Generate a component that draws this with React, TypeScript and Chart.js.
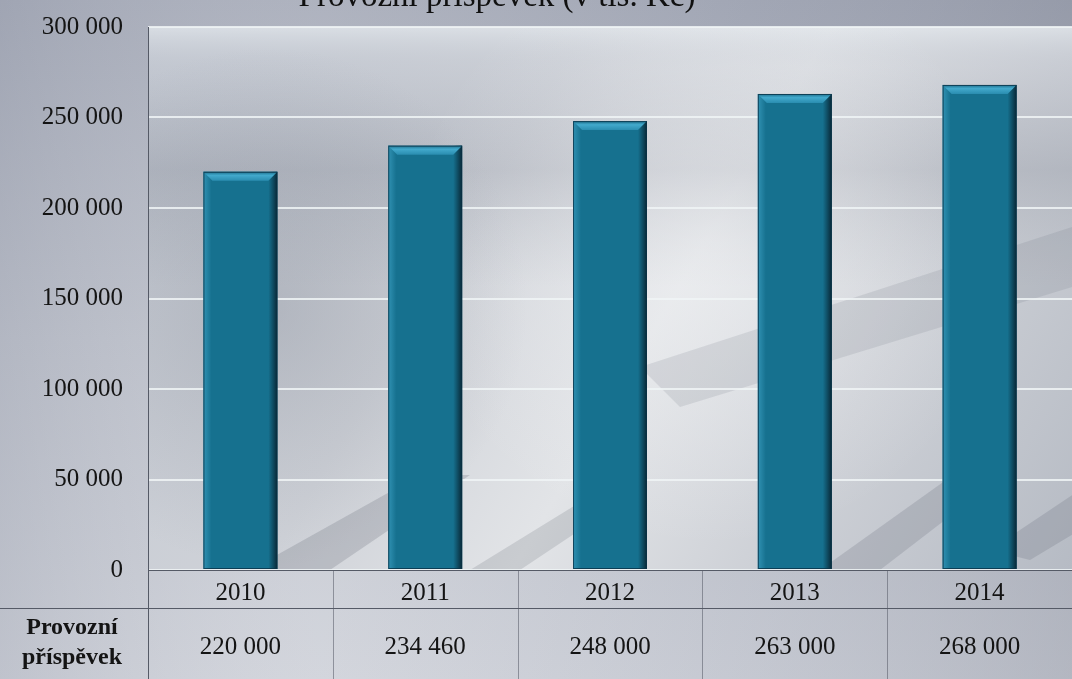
import React, { useEffect, useRef } from "react";
import { Chart, registerables } from "chart.js";

Chart.register(...registerables);

const titleText = "Provozní příspěvek (v tis. Kč)";
const categories = ["2010", "2011", "2012", "2013", "2014"];
const values = [220000, 234460, 248000, 263000, 268000];
const rowLabel = ["Provozní", "příspěvek"];
const yMin = 0;
const yMax = 300000;
const yStep = 50000;

const FONT = '"Liberation Serif", "DejaVu Serif", serif';

function fmt(n: number): string {
  return String(n).replace(/\B(?=(\d{3})+(?!\d))/g, " ");
}

const backgroundPlugin = {
  id: "metalBackground",
  beforeDraw(chart: any) {
    const { ctx, width, height, chartArea } = chart;
    ctx.save();
    // outer background
    const g = ctx.createLinearGradient(0, 0, 0, height);
    g.addColorStop(0, "#a3a8b6");
    g.addColorStop(0.5, "#bcc0ca");
    g.addColorStop(1, "#cdd0d8");
    ctx.fillStyle = g;
    ctx.fillRect(0, 0, width, height);
    const g2 = ctx.createLinearGradient(0, 0, width, 0);
    g2.addColorStop(0, "rgba(150,155,170,0.25)");
    g2.addColorStop(0.3, "rgba(255,255,255,0.12)");
    g2.addColorStop(0.7, "rgba(150,155,170,0.15)");
    g2.addColorStop(1, "rgba(120,125,140,0.3)");
    ctx.fillStyle = g2;
    ctx.fillRect(0, 0, width, height);

    // plot area
    const { left, top, right, bottom } = chartArea;
    const pg = ctx.createLinearGradient(left, top, right, bottom);
    pg.addColorStop(0, "#c4c9d2");
    pg.addColorStop(0.35, "#cfd2d8");
    pg.addColorStop(0.55, "#e2e4e7");
    pg.addColorStop(0.75, "#cdd0d6");
    pg.addColorStop(1, "#b6bbc4");
    ctx.fillStyle = pg;
    ctx.fillRect(left, top, right - left, bottom - top);

    ctx.beginPath();
    ctx.rect(left, top, right - left, bottom - top);
    ctx.clip();
    // top light edge then darker band
    const tg = ctx.createLinearGradient(0, top, 0, top + 260);
    tg.addColorStop(0, "rgba(225,230,235,0.7)");
    tg.addColorStop(0.15, "rgba(190,195,205,0.3)");
    tg.addColorStop(0.55, "rgba(130,136,150,0.3)");
    tg.addColorStop(1, "rgba(140,146,158,0)");
    ctx.fillStyle = tg;
    ctx.fillRect(left, top, right - left, 260);
    // left-middle darker zone
    const lg = ctx.createRadialGradient(left + 120, top + 280, 10, left + 120, top + 280, 260);
    lg.addColorStop(0, "rgba(120,126,140,0.3)");
    lg.addColorStop(1, "rgba(120,126,140,0)");
    ctx.fillStyle = lg;
    ctx.fillRect(left, top, right - left, bottom - top);
    // bright center-right highlight
    const hg = ctx.createRadialGradient(left + 560, top + 220, 10, left + 560, top + 220, 300);
    hg.addColorStop(0, "rgba(245,246,248,0.45)");
    hg.addColorStop(1, "rgba(245,246,248,0)");
    ctx.fillStyle = hg;
    ctx.fillRect(left, top, right - left, bottom - top);
    // diagonal shadow streaks near bottom
    const streaks = [
      [250, bottom, 420, bottom - 95, 470, bottom - 95, 330, bottom, 0.22],
      [470, bottom, 600, bottom - 80, 640, bottom - 80, 520, bottom, 0.18],
      [820, bottom, 960, bottom - 100, 1010, bottom - 100, 880, bottom, 0.2],
      [990, bottom - 20, 1080, bottom - 80, 1080, bottom - 40, 1030, bottom - 10, 0.2],
    ];
    for (const s of streaks) {
      ctx.beginPath();
      ctx.moveTo(s[0], s[1]);
      ctx.lineTo(s[2], s[3]);
      ctx.lineTo(s[4], s[5]);
      ctx.lineTo(s[6], s[7]);
      ctx.closePath();
      ctx.fillStyle = `rgba(90,95,108,${s[8]})`;
      ctx.fill();
    }
    // darker right-mid streak
    ctx.beginPath();
    ctx.moveTo(640, top + 340);
    ctx.lineTo(right, top + 200);
    ctx.lineTo(right, top + 260);
    ctx.lineTo(680, top + 380);
    ctx.closePath();
    ctx.fillStyle = "rgba(100,106,120,0.15)";
    ctx.fill();
    ctx.restore();

    // title (partially cut off at top)
    ctx.save();
    ctx.font = `33px ${FONT}`;
    ctx.fillStyle = "#111";
    ctx.textAlign = "center";
    ctx.textBaseline = "alphabetic";
    ctx.fillText(titleText, 497, 6);
    ctx.restore();
  },
};

const barBevelPlugin = {
  id: "barBevel",
  afterDatasetsDraw(chart: any) {
    const { ctx } = chart;
    const meta = chart.getDatasetMeta(0);
    ctx.save();
    meta.data.forEach((el: any) => {
      const { x, y, base, width } = el.getProps(["x", "y", "base", "width"], true);
      const l = x - width / 2;
      const r = x + width / 2;
      // left light edge
      const lg = ctx.createLinearGradient(l, 0, l + 8, 0);
      lg.addColorStop(0, "rgba(60,160,195,0.7)");
      lg.addColorStop(1, "rgba(60,160,195,0)");
      ctx.fillStyle = lg;
      ctx.fillRect(l, y, 8, base - y);
      // right dark edge
      const rg = ctx.createLinearGradient(r - 9, 0, r, 0);
      rg.addColorStop(0, "rgba(8,40,55,0)");
      rg.addColorStop(1, "rgba(8,35,48,0.95)");
      ctx.fillStyle = rg;
      ctx.fillRect(r - 9, y, 9, base - y);
      // top bevel
      ctx.beginPath();
      ctx.moveTo(l, y);
      ctx.lineTo(r, y);
      ctx.lineTo(r - 9, y + 9);
      ctx.lineTo(l + 9, y + 9);
      ctx.closePath();
      const tg = ctx.createLinearGradient(0, y, 0, y + 9);
      tg.addColorStop(0, "#1d6f8c");
      tg.addColorStop(0.4, "#42a9cc");
      tg.addColorStop(1, "#2a8db0");
      ctx.fillStyle = tg;
      ctx.fill();
      ctx.strokeStyle = "rgba(10,50,70,0.8)";
      ctx.lineWidth = 1;
      ctx.strokeRect(l + 0.5, y + 0.5, width - 1, base - y - 1);
    });
    ctx.restore();
  },
};

const tablePlugin = {
  id: "dataTable",
  afterDraw(chart: any) {
    const { ctx, chartArea, width, height } = chart;
    const xScale = chart.scales.x;
    const rowTop = chartArea.bottom;
    const row2Top = rowTop + 38;
    ctx.save();
    ctx.strokeStyle = "#555a66";
    ctx.lineWidth = 1;
    // axis line
    ctx.beginPath();
    ctx.moveTo(chartArea.left, rowTop + 0.5);
    ctx.lineTo(width, rowTop + 0.5);
    ctx.stroke();
    // row separator
    ctx.beginPath();
    ctx.moveTo(0, row2Top + 0.5);
    ctx.lineTo(width, row2Top + 0.5);
    ctx.stroke();
    // left border of table
    ctx.beginPath();
    ctx.moveTo(chartArea.left + 0.5, chartArea.top);
    ctx.lineTo(chartArea.left + 0.5, height);
    ctx.stroke();
    // category separators
    ctx.strokeStyle = "rgba(85,90,102,0.55)";
    for (let i = 1; i < categories.length; i++) {
      const xb = (xScale.getPixelForValue(i - 1) + xScale.getPixelForValue(i)) / 2;
      ctx.beginPath();
      ctx.moveTo(Math.round(xb) + 0.5, rowTop);
      ctx.lineTo(Math.round(xb) + 0.5, height);
      ctx.stroke();
    }
    // values row
    ctx.fillStyle = "#141414";
    ctx.font = `25px ${FONT}`;
    ctx.textAlign = "center";
    ctx.textBaseline = "middle";
    values.forEach((v, i) => {
      ctx.fillText(fmt(v), xScale.getPixelForValue(i), row2Top + 39);
    });
    // row label
    ctx.font = `bold 24px ${FONT}`;
    ctx.fillText(rowLabel[0], 72, row2Top + 20);
    ctx.fillText(rowLabel[1], 72, row2Top + 50);
    ctx.restore();
  },
};

export default function App() {
  const ref = useRef<HTMLCanvasElement | null>(null);
  useEffect(() => {
    if (!ref.current) return;
    const chart = new Chart(ref.current, {
      type: "bar",
      data: {
        labels: categories,
        datasets: [
          {
            label: rowLabel.join(" "),
            data: values,
            backgroundColor: "#16718f",
            borderWidth: 0,
            barPercentage: 0.4,
            categoryPercentage: 1,
          },
        ],
      },
      options: {
        animation: false,
        responsive: false,
        layout: { padding: { top: 27, right: 0, left: 0, bottom: 0 } },
        plugins: {
          legend: { display: false },
          title: { display: false },
          tooltip: { enabled: false },
        },
        scales: {
          x: {
            grid: { display: false, drawTicks: false, tickLength: 0 },
            border: { display: false },
            ticks: {
              font: { family: FONT, size: 25 },
              color: "#141414",
              padding: 8,
              maxRotation: 0,
            },
            afterFit(scale: any) {
              scale.height = 109;
              scale.paddingLeft = 0;
              scale.paddingRight = 0;
            },
          },
          y: {
            min: yMin,
            max: yMax,
            grid: {
              color: "rgba(240,244,246,0.85)",
              lineWidth: 2,
              drawTicks: false,
            },
            border: { display: false },
            ticks: {
              stepSize: yStep,
              font: { family: FONT, size: 25 },
              color: "#141414",
              padding: 25,
              callback: (v: any) => fmt(Number(v)),
            },
            afterFit(scale: any) {
              scale.width = 148;
              scale.paddingTop = 0;
              scale.paddingBottom = 0;
            },
          },
        },
      },
      plugins: [backgroundPlugin, barBevelPlugin, tablePlugin],
    });
    return () => chart.destroy();
  }, []);
  return (
    <div style={{ position: "fixed", left: 0, top: 0, width: 1072, height: 679 }}>
      <canvas ref={ref} width={1072} height={679} style={{ display: "block" }} />
    </div>
  );
}
